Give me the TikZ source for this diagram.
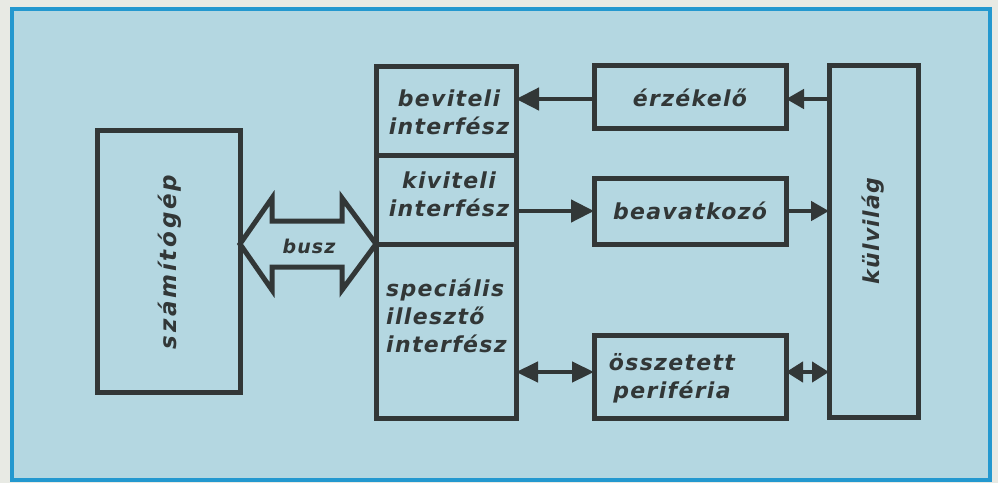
\documentclass[tikz,border=0pt]{standalone}
\usepackage{fontspec}
\usetikzlibrary{arrows.meta,calc}
\newfontfamily\lblfont{DejaVu Sans}[LetterSpace=6]
\newfontfamily\widefont{DejaVu Sans}[LetterSpace=12]
\definecolor{paper}{RGB}{232,234,228}
\definecolor{frameblue}{RGB}{35,152,207}
\definecolor{bg}{RGB}{180,215,225}
\definecolor{ink}{RGB}{50,55,55}
\tikzset{
  box/.style={draw=ink, line width=5pt, fill=none, inner sep=0pt, outer sep=0pt, rectangle},
  lbl/.style={text=ink, font=\lblfont\bfseries\itshape\fontsize{22}{28}\selectfont, inner sep=0pt},
  conn/.style={draw=ink, line width=4.5pt},
  tip/.style={-{Triangle[length=23pt,width=22pt]}},
  dtip/.style={{Triangle[length=22pt,width=20pt]}-{Triangle[length=22pt,width=20pt]}},
  stip/.style={-{Triangle[length=18pt,width=19pt]}},
  sdtip/.style={{Triangle[length=17pt,width=20pt]}-{Triangle[length=17pt,width=20pt]}}
}
\begin{document}
\begin{tikzpicture}[x=1pt,y=-1pt]
  % page and framed panel
  \fill[paper] (0,0) rectangle (998,483);
  \useasboundingbox (0,0) rectangle (998,483);
  \draw[frameblue, line width=4pt, fill=bg] (12,9) rectangle (990,480);

  % blocks
  \node[box, minimum width=143pt, minimum height=262pt] (comp) at (168.5,261) {};
  \node[box, minimum width=140pt, minimum height=89pt]  (bev)  at (446,110.5) {};
  \node[box, minimum width=140pt, minimum height=89pt]  (kiv)  at (446,199.5) {};
  \node[box, minimum width=140pt, minimum height=174pt] (spec) at (446,331) {};
  \node[box, minimum width=192pt, minimum height=63pt]  (erz)  at (690,96.5) {};
  \node[box, minimum width=192pt, minimum height=66pt]  (beav) at (690,211) {};
  \node[box, minimum width=192pt, minimum height=83pt]  (ossz) at (690,376.5) {};
  \node[box, minimum width=89pt,  minimum height=352pt] (kulv) at (873.5,241) {};

  % labels
  \node[lbl, rotate=90, font=\widefont\bfseries\itshape\fontsize{23}{28}\selectfont] (compT) at (170,262) {számítógép};
  \node[lbl, rotate=90] (kulvT) at (873,231) {külvilág};
  \node[lbl, align=center] (bevT) at (449,112) {beviteli\\interfész};
  \node[lbl, align=center] (kivT) at (449,194) {kiviteli\\interfész};
  \node[lbl, align=left, anchor=west] (specT) at (386,316) {speciális\\illesztő\\interfész};
  \node[lbl] (erzT) at (690,98) {érzékelő};
  \node[lbl] (beavT) at (690,211) {beavatkozó};
  \node[lbl, align=center] (osszT) at (672,378) {összetett\\periféria};

  % bus: double-headed block arrow between computer and interfaces
  \coordinate (busR) at (spec.north west);
  \coordinate (busL) at (comp.east |- busR);
  \draw[draw=ink, line width=5pt, fill=bg, line join=miter]
    (busL) -- ++(32,-46) -- ++(0,23) -- ++(70,0) -- ++(0,-23)
    -- (busR) -- ++(-34,46) -- ++(0,-23) -- ++(-70,0) -- ++(0,23) -- cycle;
  \node[lbl, font=\lblfont\bfseries\itshape\fontsize{19}{22}\selectfont] (busT) at (309,246) {busz};

  % signal paths
  \coordinate (erzL) at ($(erz.west)+(0,2.5)$);
  \coordinate (erzR) at ($(erz.east)+(0,2.5)$);
  \draw[conn, tip] (erzL) -- (erzL -| bev.east);
  \draw[conn, stip] (erzR -| kulv.west) -- (erzR);
  \draw[conn, tip] (beav.west -| kiv.east) -- (beav.west);
  \draw[conn, stip] (beav.east) -- (beav.east -| kulv.west);
  \coordinate (oszL) at ($(ossz.west)+(0,-4.5)$);
  \coordinate (oszR) at ($(ossz.east)+(0,-4.5)$);
  \draw[conn, dtip] (oszL -| spec.east) -- (oszL);
  \draw[conn, sdtip] (oszR) -- (oszR -| kulv.west);
\end{tikzpicture}
\end{document}
